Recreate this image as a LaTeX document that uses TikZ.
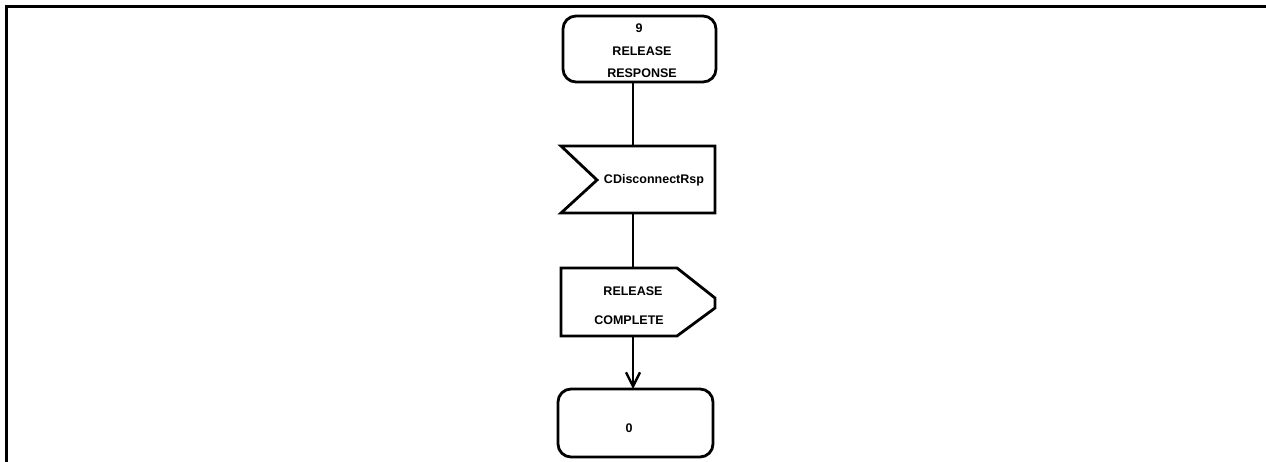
\documentclass[tikz,border=0pt]{standalone}
\usepackage{fontspec}
\setmainfont{Liberation Sans}
\usetikzlibrary{arrows.meta}
\begin{document}
\begin{tikzpicture}[x=1pt,y=-1pt,
  line width=2.8pt,
  lbl/.style={font=\bfseries\fontsize{12.5}{14}\selectfont, inner sep=0pt},
  flow/.style={line width=2.8pt},
  arr/.style={flow,-{Straight Barb[length=14pt,width=14pt,line width=2.4pt]}}]
\useasboundingbox (0,0) rectangle (1266,462);
% frame
\draw[line width=3pt] (6,462) -- (6,7) -- (1266,7);
% state 9
\draw[rounded corners=13pt] (563,16) rectangle (716,82);
\node[lbl] (s9a) at (639,28) {9};
\node[lbl] (s9b) at (642,51) {RELEASE};
\node[lbl] (s9c) at (642,73) {RESPONSE};
\coordinate (s9) at (633,82);
% input signal
\draw (561,146) -- (715,146) -- (715,213) -- (561,213) -- (597,180) -- cycle;
\node[lbl] (inp) at (654,180) {CDisconnectRsp};
\coordinate (inT) at (633,146);
\coordinate (inB) at (633,213);
% output signal
\draw (561,268) -- (677,268) -- (715,298) -- (715,308) -- (677,336) -- (561,336) -- cycle;
\node[lbl] (outa) at (633,291) {RELEASE};
\node[lbl] (outb) at (629,320) {COMPLETE};
\coordinate (outT) at (633,268);
\coordinate (outB) at (633,336);
% state 0
\draw[rounded corners=13pt] (558,389) rectangle (713,457);
\node[lbl] (s0) at (629,428) {0};
\coordinate (s0T) at (633,389);
% connectors
\draw[flow] (s9) -- (inT);
\draw[flow] (inB) -- (outT);
\draw[arr] (outB) -- (s0T);
\end{tikzpicture}
\end{document}
